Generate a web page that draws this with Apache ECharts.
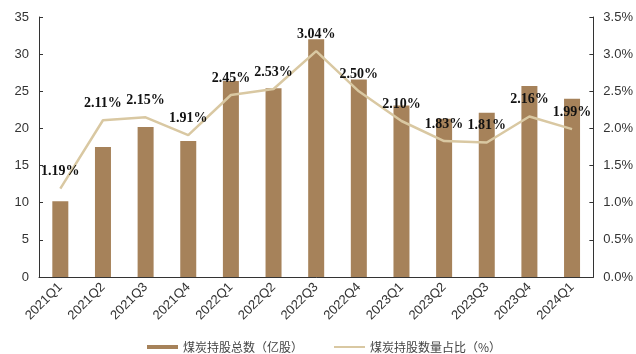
<!DOCTYPE html>
<html>
<head>
<meta charset="utf-8">
<script src="https://cdn.jsdelivr.net/npm/echarts@6/dist/echarts.min.js"></script>
<style>
  html, body { margin: 0; padding: 0; background: #fff; }
  #chart { width: 636px; height: 354px; }
</style>
</head>
<body>
<div id="chart"></div>
<script>
// Quarterly coal holdings: total shares (100M shares) and share of holdings (%)
const quarters = ['2021Q1','2021Q2','2021Q3','2021Q4','2022Q1','2022Q2','2022Q3','2022Q4','2023Q1','2023Q2','2023Q3','2023Q4','2024Q1'];
const totalShares = [10.2, 17.5, 20.2, 18.3, 26.4, 25.4, 32.0, 26.6, 23.1, 21.3, 22.1, 25.7, 24.0];
const holdingRatio = [1.19, 2.11, 2.15, 1.91, 2.45, 2.53, 3.04, 2.50, 2.10, 1.83, 1.81, 2.16, 1.99];

const barName = '煤炭持股总数（亿股）';
const lineName = '煤炭持股数量占比（%）';

const axisFont = { fontFamily: 'Liberation Sans, Arial, sans-serif', fontSize: 13, color: '#333' };

const chart = echarts.init(document.getElementById('chart'), null, { renderer: 'canvas' });
chart.setOption({
  animation: false,
  grid: { left: 39, right: 38, top: 17, bottom: 77 },
  legend: {
    top: 336,
    left: 142,
    itemWidth: 31,
    itemHeight: 4,
    itemGap: 30,
    textStyle: { fontFamily: 'Noto Sans CJK SC', fontSize: 12, color: '#444' },
    data: [
      { name: barName, icon: 'rect' },
      { name: lineName, itemStyle: { opacity: 0 } }
    ]
  },
  xAxis: {
    type: 'category',
    data: quarters,
    axisLine: { lineStyle: { color: '#333', width: 1 } },
    axisTick: { inside: true, length: 4, lineStyle: { color: '#333' } },
    axisLabel: Object.assign({ rotate: 45, margin: 8, interval: 0 }, axisFont)
  },
  yAxis: [
    {
      type: 'value', min: 0, max: 35, interval: 5,
      splitLine: { show: false },
      axisLine: { show: true, lineStyle: { color: '#333' } },
      axisTick: { show: true, inside: true, length: 4, lineStyle: { color: '#333' } },
      axisLabel: Object.assign({ margin: 10 }, axisFont)
    },
    {
      type: 'value', min: 0, max: 3.5, interval: 0.5,
      splitLine: { show: false },
      axisLine: { show: true, lineStyle: { color: '#333' } },
      axisTick: { show: true, inside: true, length: 4, lineStyle: { color: '#333' } },
      axisLabel: Object.assign({ margin: 10, formatter: v => v.toFixed(1) + '%' }, axisFont)
    }
  ],
  series: [
    {
      name: barName,
      type: 'bar',
      data: totalShares,
      barWidth: 16,
      itemStyle: { color: '#A6825A' }
    },
    {
      name: lineName,
      type: 'line',
      yAxisIndex: 1,
      data: holdingRatio,
      symbol: 'circle',
      symbolSize: 0,
      lineStyle: { color: '#D9C8A2', width: 2.5 },
      itemStyle: { color: '#D9C8A2' },
      label: {
        show: true,
        position: 'top',
        distance: 10,
        formatter: p => p.value.toFixed(2) + '%',
        fontFamily: 'Liberation Serif, Times New Roman, serif',
        fontWeight: 'bold',
        fontSize: 14,
        color: '#111'
      },
      z: 3
    }
  ]
});
</script>
</body>
</html>
